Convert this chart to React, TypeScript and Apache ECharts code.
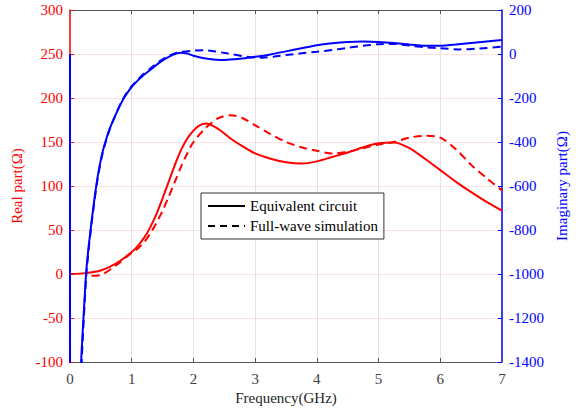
import React, { useEffect, useRef } from "react";
import * as echarts from "echarts";

// Frequency (GHz) / value pairs
const realEquivalent: [number, number][] = [
  [0, 0], [0.25, 1], [0.5, 4], [0.75, 12], [1.0, 25], [1.1, 32], [1.2, 41], [1.3, 53],
  [1.4, 68], [1.5, 86], [1.6, 105], [1.7, 124], [1.8, 141], [1.9, 154], [2.0, 163], [2.1, 169],
  [2.2, 171], [2.4, 165], [2.6, 154], [2.8, 145], [3.0, 137], [3.25, 131],
  [3.5, 127], [3.75, 125.5], [4.0, 128], [4.25, 133], [4.5, 138], [4.75, 144], [5.0, 148.5],
  [5.25, 149.5], [5.5, 143], [5.75, 131], [6.0, 118], [6.25, 105], [6.5, 93], [6.75, 82], [7.0, 72],
];
const realFullWave: [number, number][] = [
  [0.35, -2], [0.5, -1], [0.75, 10], [1.0, 24], [1.1, 29], [1.2, 36], [1.3, 46], [1.4, 58],
  [1.5, 72], [1.6, 88], [1.7, 105], [1.8, 122], [1.9, 137], [2.0, 150], [2.2, 166], [2.4, 177],
  [2.6, 180.5], [2.8, 177], [3.0, 169], [3.25, 159],
  [3.5, 150], [3.75, 144], [4.0, 140], [4.25, 137], [4.5, 139], [4.75, 143], [5.0, 147],
  [5.25, 150], [5.5, 155], [5.75, 157], [6.0, 155], [6.25, 142], [6.5, 124], [6.75, 109], [7.0, 95],
];
const imagEquivalent: [number, number][] = [
  [0, 0], [0.001, -2000], [0.16, -1600], [0.18, -1400], [0.2, -1290], [0.26, -1000], [0.3, -880],
  [0.35, -760], [0.4, -650], [0.45, -555], [0.5, -480], [0.54, -432], [0.6, -375], [0.65, -335],
  [0.75, -270], [0.85, -212], [0.92, -180], [1.0, -150], [1.1, -120], [1.19, -96], [1.3, -72],
  [1.46, -37], [1.6, -13], [1.73, 3], [1.8, 6], [1.9, 2], [2.0, -8], [2.2, -20], [2.5, -27],
  [2.75, -22], [3.0, -13], [3.25, -2], [3.5, 12], [3.75, 26], [4.0, 40], [4.25, 49], [4.5, 55],
  [4.75, 57], [5.0, 55], [5.25, 50], [5.5, 43], [5.75, 37], [6.0, 37], [6.25, 43], [6.5, 50],
  [6.75, 57], [7.0, 64],
];
const imagFullWave: [number, number][] = [
  [0.17, -1600], [0.19, -1400], [0.2, -1330], [0.26, -1020], [0.3, -895], [0.35, -770],
  [0.4, -660], [0.45, -562], [0.5, -487], [0.54, -438], [0.6, -380], [0.65, -337], [0.75, -268],
  [0.85, -209], [0.92, -176], [1.0, -146], [1.1, -116], [1.19, -91], [1.3, -66], [1.46, -31],
  [1.6, -8], [1.73, 6], [1.8, 10], [2.0, 15], [2.16, 17], [2.3, 14], [2.54, 3], [2.86, -12],
  [3.08, -17], [3.3, -12], [3.5, -5], [3.75, 3], [4.0, 10], [4.25, 18], [4.5, 28], [4.75, 37],
  [4.97, 44], [5.25, 46], [5.51, 38], [5.75, 31], [6.0, 26], [6.32, 21], [6.6, 24], [7.0, 33],
];

const legendNames = ["Equivalent circuit", "Full-wave simulation"];
const xAxisName = "Frequency(GHz)";
const leftAxisName = "Real part(\u03A9)";
const rightAxisName = "Imaginary part(\u03A9)";

const FONT = "Liberation Serif";
const RED = "#ff0000";
const BLUE = "#0000ff";
const DASH = [8, 5];

export default function App() {
  const ref = useRef<HTMLDivElement>(null);
  useEffect(() => {
    if (!ref.current) return;
    const chart = echarts.init(ref.current, undefined, { renderer: "svg" });
    chart.setOption({
      animation: false,
      backgroundColor: "#ffffff",
      textStyle: { fontFamily: FONT },
      grid: { left: 70, right: 77, top: 10, bottom: 54, containLabel: false },
      legend: {
        left: 201,
        top: 193,
        orient: "vertical",
        data: legendNames,
        backgroundColor: "#ffffff",
        borderColor: "#333333",
        borderWidth: 1,
        padding: [4, 6, 4, 6],
        itemGap: 2,
        itemWidth: 37,
        itemHeight: 14,
        selectedMode: false,
        itemStyle: { opacity: 0 },
        textStyle: { fontFamily: FONT, fontSize: 15, color: "#000", lineHeight: 18 },
      },
      xAxis: [
        {
          type: "value",
          min: 0,
          max: 7,
          interval: 1,
          name: xAxisName,
          nameLocation: "middle",
          nameGap: 26,
          nameTextStyle: { fontFamily: FONT, fontSize: 15, color: "#262626" },
          axisLine: { show: true, onZero: false, lineStyle: { color: "#555555", width: 1 } },
          axisTick: { show: true, inside: true, length: 4, lineStyle: { color: "#555555" } },
          axisLabel: { fontFamily: FONT, fontSize: 15, color: "#404040", margin: 9 },
          splitLine: { show: true, lineStyle: { color: "#e3e3e3", width: 1 } },
        },
        {
          type: "value",
          position: "top",
          min: 0,
          max: 7,
          interval: 1,
          axisLine: { show: true, onZero: false, lineStyle: { color: "#555555", width: 1 } },
          axisTick: { show: true, inside: true, length: 4, lineStyle: { color: "#555555" } },
          axisLabel: { show: false },
          splitLine: { show: false },
        },
      ],
      yAxis: [
        {
          type: "value",
          min: -100,
          max: 300,
          interval: 50,
          position: "left",
          name: leftAxisName,
          nameLocation: "middle",
          nameRotate: 90,
          nameGap: 38,
          nameTextStyle: { fontFamily: FONT, fontSize: 15, color: RED },
          axisLine: { show: true, onZero: false, lineStyle: { color: RED, width: 1.5 } },
          axisTick: { show: true, inside: true, length: 4, lineStyle: { color: RED } },
          axisLabel: { fontFamily: FONT, fontSize: 15, color: RED, margin: 7, formatter: (v: number) => String(v) },
          splitLine: { show: true, lineStyle: { color: "rgba(255,0,0,0.12)", width: 1 } },
        },
        {
          type: "value",
          min: -1400,
          max: 200,
          interval: 200,
          position: "right",
          name: rightAxisName,
          nameLocation: "middle",
          nameRotate: 90,
          nameGap: 49,
          nameTextStyle: { fontFamily: FONT, fontSize: 15, color: BLUE },
          axisLine: { show: true, onZero: false, lineStyle: { color: BLUE, width: 1.5 } },
          axisTick: { show: true, inside: true, length: 4, lineStyle: { color: BLUE } },
          axisLabel: { fontFamily: FONT, fontSize: 15, color: BLUE, margin: 7, formatter: (v: number) => String(v) },
          splitLine: { show: false },
        },
      ],
      series: [
        {
          type: "line",
          yAxisIndex: 0,
          data: realEquivalent,
          symbol: "none",
          smooth: 0.3,
          clip: true,
          lineStyle: { color: RED, width: 2 },
          itemStyle: { color: RED },
        },
        {
          type: "line",
          yAxisIndex: 0,
          data: realFullWave,
          symbol: "none",
          smooth: 0.3,
          clip: true,
          lineStyle: { color: RED, width: 2, type: DASH },
          itemStyle: { color: RED },
        },
        {
          type: "line",
          yAxisIndex: 1,
          data: imagEquivalent,
          symbol: "none",
          smooth: 0.2,
          clip: true,
          lineStyle: { color: BLUE, width: 2 },
          itemStyle: { color: BLUE },
        },
        {
          type: "line",
          yAxisIndex: 1,
          data: imagFullWave,
          symbol: "none",
          smooth: 0.2,
          clip: true,
          lineStyle: { color: BLUE, width: 2, type: DASH },
          itemStyle: { color: BLUE },
        },
        {
          name: legendNames[0],
          type: "line",
          data: [],
          symbol: "none",
          lineStyle: { color: "#000", width: 2 },
          itemStyle: { color: "#000" },
        },
        {
          name: legendNames[1],
          type: "line",
          data: [],
          symbol: "none",
          lineStyle: { color: "#000", width: 2, type: [7, 5] },
          itemStyle: { color: "#000" },
        },
      ],
    });
    return () => chart.dispose();
  }, []);
  return <div ref={ref} style={{ width: 579, height: 416, position: "absolute", left: 0, top: 0 }} />;
}
